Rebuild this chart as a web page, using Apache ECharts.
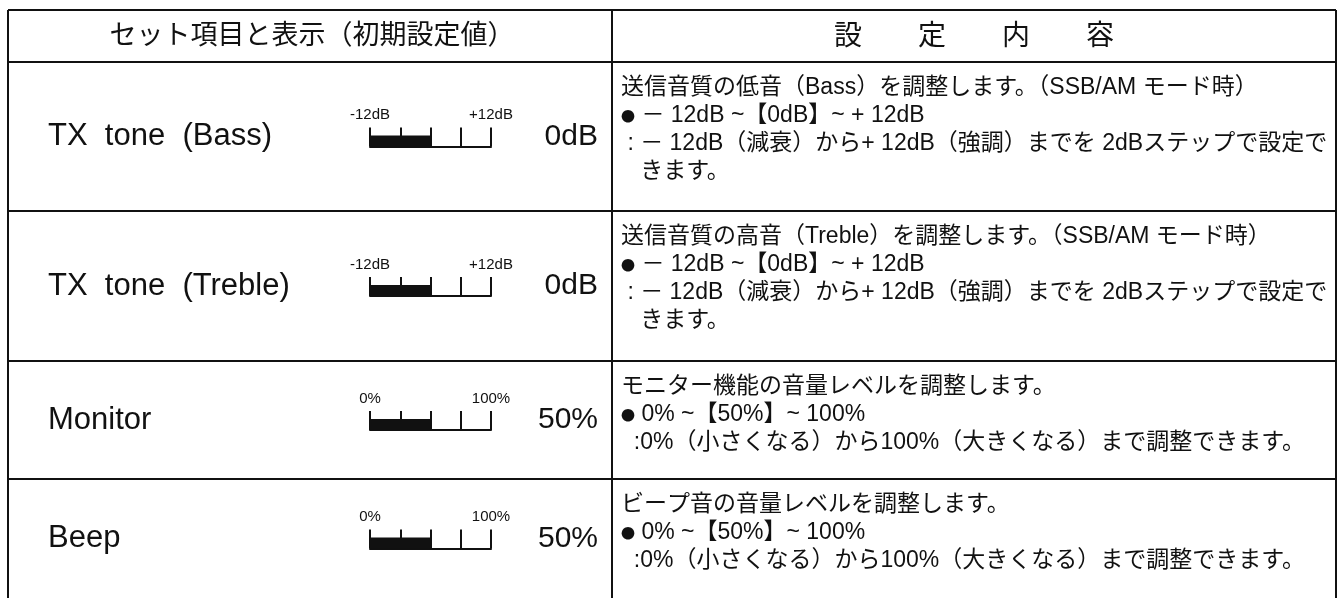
<!DOCTYPE html>
<html><head><meta charset="utf-8">
<script src="https://cdn.jsdelivr.net/npm/echarts@6/dist/echarts.min.js"></script>
<style>html,body{margin:0;padding:0;background:#fff}#c{width:1339px;height:598px}</style>
</head><body><div id="c"></div>
<script>
// ---- data ----
const headerLeft = 'セット項目と表示（初期設定値）';
const headerRightChars = ['設', '定', '内', '容'];
const itemNames = ['TX  tone  (Bass)', 'TX  tone  (Treble)', 'Monitor', 'Beep'];
const gaugeMin = [-12, -12, 0, 0];
const gaugeMax = [12, 12, 100, 100];
const gaugeStep = [6, 6, 25, 25];
const gaugeValue = [0, 0, 50, 50];
const gaugeMinLabels = ['-12dB', '-12dB', '0%', '0%'];
const gaugeMaxLabels = ['+12dB', '+12dB', '100%', '100%'];
const valueLabels = ['0dB', '0dB', '50%', '50%'];
const descLines = [
  ['送信音質の低音（Bass）を調整します。（SSB/AM モード時）',
   '{b|●} － 12dB ~【0dB】~ + 12dB',
   ' : － 12dB（減衰）から+ 12dB（強調）までを 2dBステップで設定で',
   '   きます。'],
  ['送信音質の高音（Treble）を調整します。（SSB/AM モード時）',
   '{b|●} － 12dB ~【0dB】~ + 12dB',
   ' : － 12dB（減衰）から+ 12dB（強調）までを 2dBステップで設定で',
   '   きます。'],
  ['モニター機能の音量レベルを調整します。',
   '{b|●} 0% ~【50%】~ 100%',
   '  :0%（小さくなる）から100%（大きくなる）まで調整できます。'],
  ['ビープ音の音量レベルを調整します。',
   '{b|●} 0% ~【50%】~ 100%',
   '  :0%（小さくなる）から100%（大きくなる）まで調整できます。']
];

// ---- layout ----
const FONT = "'Liberation Sans', 'Noto Sans CJK JP', sans-serif";
const INK = '#111';
const X0 = 8, XM = 612, X1 = 1336;
const HEAD_TOP = 10, HEAD_BOT = 62;
const rowTops = [62, 211, 361, 479];
const rowBots = [211, 361, 479, 598];
const GX = 370, GW = 121, GH = 19;

const chart = echarts.init(document.getElementById('c'));
const graphic = [];
function line(x1, y1, x2, y2) {
  graphic.push({type: 'line', shape: {x1, y1, x2, y2}, style: {stroke: INK, lineWidth: 2}});
}
function text(str, x, y, size, align) {
  graphic.push({type: 'text', x, y, style: {
    text: str, fill: INK, font: size + 'px ' + FONT, textAlign: align || 'left', textVerticalAlign: 'middle',
    rich: {b: {fontSize: 14, fontFamily: "'Noto Sans CJK JP'", fill: INK, verticalAlign: 'middle'}}
  }});
}
// table lines
line(X0, HEAD_TOP, X1, HEAD_TOP);
line(X0, HEAD_BOT, X1, HEAD_BOT);
rowTops.slice(1).forEach(y => line(X0, y, X1, y));
line(X0, HEAD_TOP, X0, 598);
line(XM, HEAD_TOP, XM, 598);
line(X1, HEAD_TOP, X1, 598);
// headers
text(headerLeft, (X0 + XM) / 2 + 2, (HEAD_TOP + HEAD_BOT) / 2 + 1, 27, 'center');
const hc = (XM + X1) / 2, pitch = 84;
headerRightChars.forEach((ch, k) => text(ch, hc + (k - 1.5) * pitch, (HEAD_TOP + HEAD_BOT) / 2 + 1, 28, 'center'));

const grids = [], xAxes = [], yAxes = [], series = [];
itemNames.forEach((name, i) => {
  const c = (rowTops[i] + rowBots[i]) / 2;
  text(name, 48, c, 31, 'left');
  text(valueLabels[i], 598, c, 30, 'right');
  descLines[i].forEach((s, k) => text(s, 621, rowTops[i] + 26 + k * 28, 23, 'left'));
  grids.push({left: GX, width: GW, top: c - 9, height: GH});
  xAxes.push({
    gridIndex: i, type: 'value', min: gaugeMin[i], max: gaugeMax[i], interval: gaugeStep[i],
    axisLine: {show: true, onZero: false, lineStyle: {color: INK, width: 2}},
    axisTick: {show: true, inside: true, length: GH, lineStyle: {color: INK, width: 2}},
    splitLine: {show: false},
    axisLabel: {show: true, inside: true, margin: 24, color: INK, fontSize: 15, fontFamily: FONT,
      showMinLabel: true, showMaxLabel: true, hideOverlap: false,
      formatter: v => v === gaugeMin[i] ? gaugeMinLabels[i] : (v === gaugeMax[i] ? gaugeMaxLabels[i] : '')}
  });
  yAxes.push({gridIndex: i, type: 'category', data: [''], show: false});
  series.push({
    type: 'custom', xAxisIndex: i, yAxisIndex: i, data: [[gaugeValue[i], 0]],
    renderItem: (params, api) => {
      const p0 = api.coord([gaugeMin[i], 0]);
      const p1 = api.coord([api.value(0), 0]);
      const band = api.size([0, 1])[1];
      const bottom = p0[1] + band / 2;
      return {type: 'rect', shape: {x: p0[0], y: bottom - 11, width: p1[0] - p0[0], height: 11}, style: {fill: INK}};
    }
  });
});

chart.setOption({
  animation: false,
  backgroundColor: '#fff',
  grid: grids, xAxis: xAxes, yAxis: yAxes, series,
  graphic
});
</script></body></html>
